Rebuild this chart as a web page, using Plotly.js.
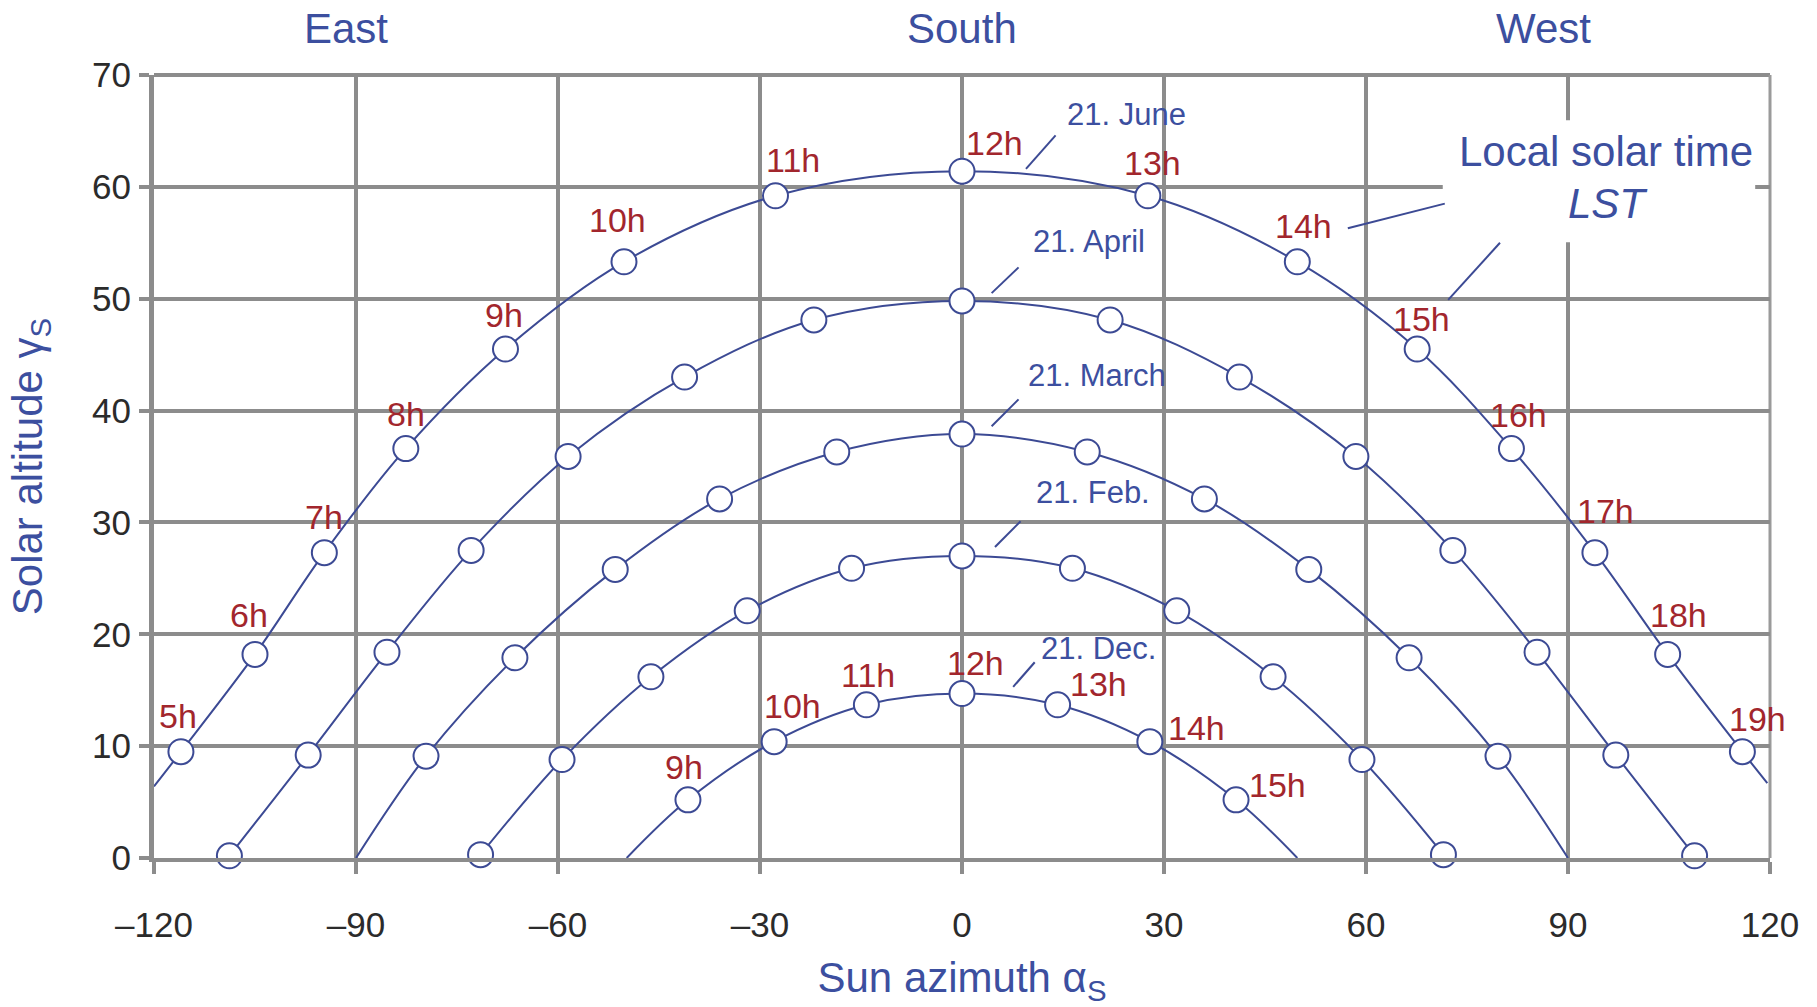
<!DOCTYPE html>
<html>
<head>
<meta charset="utf-8">
<script src="https://cdn.plot.ly/plotly-3.0.1.min.js"></script>
<style>
  html, body { margin: 0; padding: 0; background: #ffffff; }
  #chart { width: 1817px; height: 1007px; }
</style>
</head>
<body>
<div id="chart"></div>
<script>
// ---------------- data ----------------
// Sun azimuth (deg) and solar altitude (deg) at full hours, local solar time
const juneHours = ['5h','6h','7h','8h','9h','10h','11h','12h','13h','14h','15h','16h','17h','18h','19h'];
const juneAz  = [-116.0, -105.0, -94.7, -82.6, -67.8, -50.2, -27.7, 0, 27.6, 49.8, 67.6, 81.6, 94.0, 104.8, 115.9];
const juneAlt = [9.5, 18.2, 27.3, 36.6, 45.5, 53.3, 59.2, 61.4, 59.2, 53.3, 45.5, 36.6, 27.3, 18.2, 9.5];
// where the June curve leaves the plotted frame
const juneEdgeAz  = [-120, 119.6];
const juneEdgeAlt = [6.4, 6.7];

const aprilAz  = [-108.8, -97.1, -85.4, -72.9, -58.5, -41.2, -22.0, 0, 22.0, 41.2, 58.5, 72.9, 85.4, 97.1, 108.8];
const aprilAlt = [0.2, 9.2, 18.4, 27.5, 35.9, 43.0, 48.1, 49.8, 48.1, 43.0, 35.9, 27.5, 18.4, 9.2, 0.2];

const marchAz  = [-79.6, -66.4, -51.5, -36.0, -18.6, 0, 18.6, 36.0, 51.5, 66.4, 79.6];
const marchAlt = [9.1, 17.9, 25.8, 32.1, 36.3, 37.9, 36.3, 32.1, 25.8, 17.9, 9.1];
const marchRiseSetAz  = [-90, 90];
const marchRiseSetAlt = [0, 0];

const febAz  = [-71.5, -59.4, -46.2, -31.9, -16.4, 0, 16.4, 31.9, 46.2, 59.4, 71.5];
const febAlt = [0.3, 8.8, 16.2, 22.1, 25.9, 27.0, 25.9, 22.1, 16.2, 8.8, 0.3];

const decHours = ['9h','10h','11h','12h','13h','14h','15h'];
const decAz  = [-40.7, -27.9, -14.2, 0, 14.2, 27.9, 40.7];
const decAlt = [5.2, 10.4, 13.7, 14.7, 13.7, 10.4, 5.2];
const decRiseSetAz  = [-49.8, 49.8];
const decRiseSetAlt = [0, 0];

const dateNames = ['21. June', '21. April', '21. March', '21. Feb.', '21. Dec.'];

const xTickVals = [-120, -90, -60, -30, 0, 30, 60, 90, 120];
const yTickVals = [0, 10, 20, 30, 40, 50, 60, 70];
const directionNames = ['East', 'South', 'West'];

// ---------------- label placement (annotation positions) ----------------
const juneLabelX = [-116.5, -105.9, -94.7, -82.6, -68.0, -51.1, -25.1, 4.9, 28.3, 50.7, 68.3, 82.6, 95.5, 106.4, 118.1];
const juneLabelY = [12.7, 21.7, 30.5, 39.7, 48.5, 57.0, 62.4, 63.9, 62.1, 56.5, 48.2, 39.6, 31.0, 21.7, 12.4];
const decLabelX = [-41.3, -25.1, -13.9, 2.0, 20.2, 34.9, 46.9];
const decLabelY = [8.1, 13.6, 16.4, 17.4, 15.6, 11.6, 6.5];
const dateLabelX = [24.5, 18.9, 20.0, 19.4, 20.3];
const dateLabelY = [66.5, 55.1, 43.1, 32.7, 18.7];
const dateLeader = [[9.5, 61.6, 13.9, 64.6], [4.4, 50.5, 8.4, 52.8], [4.4, 38.6, 8.4, 41.0], [4.9, 27.8, 8.7, 30.1], [7.6, 15.3, 10.8, 17.5]];
const directionX = [-91.5, 0, 86.4];

// ---------------- styles ----------------
const FONT = 'Liberation Sans, Arial, Helvetica, sans-serif';
const BLUE_LINE = '#3c4a94';
const BLUE_TEXT = '#3c4f9f';
const RED_TEXT = '#a2262d';
const GRID = '#8c8c8c';

function curveTrace(az, alt) {
  return {
    x: az, y: alt, type: 'scatter', mode: 'lines', hoverinfo: 'skip',
    line: { color: BLUE_LINE, width: 2, shape: 'spline', smoothing: 1 },
    showlegend: false, cliponaxis: true
  };
}
function markerTrace(az, alt, name) {
  return {
    x: az, y: alt, type: 'scatter', mode: 'markers', name: name,
    marker: { size: 25, color: '#ffffff', line: { color: BLUE_LINE, width: 2 } },
    showlegend: false, cliponaxis: false
  };
}

const traces = [
  curveTrace([juneEdgeAz[0]].concat(juneAz, [juneEdgeAz[1]]), [juneEdgeAlt[0]].concat(juneAlt, [juneEdgeAlt[1]])),
  curveTrace(aprilAz, aprilAlt),
  curveTrace([marchRiseSetAz[0]].concat(marchAz, [marchRiseSetAz[1]]), [marchRiseSetAlt[0]].concat(marchAlt, [marchRiseSetAlt[1]])),
  curveTrace(febAz, febAlt),
  curveTrace([decRiseSetAz[0]].concat(decAz, [decRiseSetAz[1]]), [decRiseSetAlt[0]].concat(decAlt, [decRiseSetAlt[1]])),
  markerTrace(juneAz, juneAlt, dateNames[0]),
  markerTrace(aprilAz, aprilAlt, dateNames[1]),
  markerTrace(marchAz, marchAlt, dateNames[2]),
  markerTrace(febAz, febAlt, dateNames[3]),
  markerTrace(decAz, decAlt, dateNames[4])
];

const annotations = [];
juneHours.forEach((h, i) => annotations.push({
  x: juneLabelX[i], y: juneLabelY[i], xref: 'x', yref: 'y', text: h, showarrow: false,
  xanchor: 'center', yanchor: 'middle', font: { family: FONT, size: 34, color: RED_TEXT }
}));
decHours.forEach((h, i) => annotations.push({
  x: decLabelX[i], y: decLabelY[i], xref: 'x', yref: 'y', text: h, showarrow: false,
  xanchor: 'center', yanchor: 'middle', font: { family: FONT, size: 34, color: RED_TEXT }
}));
dateNames.forEach((d, i) => annotations.push({
  x: dateLabelX[i], y: dateLabelY[i], xref: 'x', yref: 'y', text: d, showarrow: false,
  xanchor: 'center', yanchor: 'middle', font: { family: FONT, size: 31, color: BLUE_TEXT }
}));
directionNames.forEach((d, i) => annotations.push({
  x: directionX[i], y: 1.0588, xref: 'x', yref: 'paper', text: d, showarrow: false,
  xanchor: 'center', yanchor: 'middle', font: { family: FONT, size: 42, color: BLUE_TEXT }
}));
annotations.push({
  x: 95.7, y: 63.2, xref: 'x', yref: 'y', text: 'Local solar time', showarrow: false,
  xanchor: 'center', yanchor: 'middle', font: { family: FONT, size: 42, color: BLUE_TEXT }
});
annotations.push({
  x: 95.9, y: 58.5, xref: 'x', yref: 'y', text: '<i>LST</i>', showarrow: false,
  xanchor: 'center', yanchor: 'middle', font: { family: FONT, size: 42, color: BLUE_TEXT }
});

const shapes = [
  // white label box over the grid
  { type: 'rect', xref: 'x', yref: 'y', x0: 71.4, x1: 117.8, y0: 55.05, y1: 65.95,
    fillcolor: '#ffffff', line: { width: 0 }, layer: 'between' },
  // frame: top and right
  { type: 'line', xref: 'paper', yref: 'paper', x0: 0, x1: 1, y0: 1, y1: 1, line: { color: GRID, width: 4 }, layer: 'below' },
  { type: 'line', xref: 'paper', yref: 'paper', x0: 1, x1: 1, y0: 0, y1: 1, line: { color: '#9a9a9a', width: 3 }, layer: 'below' },
  // LST leader lines
  { type: 'line', xref: 'x', yref: 'y', x0: 57.3, y0: 56.3, x1: 71.7, y1: 58.5, line: { color: BLUE_LINE, width: 2 } },
  { type: 'line', xref: 'x', yref: 'y', x0: 72.2, y0: 49.9, x1: 79.9, y1: 55.0, line: { color: BLUE_LINE, width: 2 } }
];
dateLeader.forEach(s => shapes.push({
  type: 'line', xref: 'x', yref: 'y', x0: s[0], y0: s[1], x1: s[2], y1: s[3],
  line: { color: BLUE_LINE, width: 2 }
}));

const layout = {
  width: 1817, height: 1007,
  margin: { l: 154, r: 47, t: 75, b: 149, pad: 0 },
  paper_bgcolor: '#ffffff', plot_bgcolor: '#ffffff',
  font: { family: FONT, color: '#2b2b2b' },
  showlegend: false,
  xaxis: {
    range: [-120, 120], tickvals: xTickVals, ticktext: xTickVals.map(v => v < 0 ? '\u2013' + Math.abs(v) : String(v)),
    showgrid: true, gridcolor: GRID, gridwidth: 4, zeroline: false,
    showline: true, linecolor: GRID, linewidth: 4,
    ticks: 'outside', ticklen: 12, tickwidth: 4, tickcolor: GRID,
    tickfont: { family: FONT, size: 35, color: '#2b2b2b' }, ticklabelstandoff: 21,
    title: { text: 'Sun azimuth \u03b1<sub>S</sub>', font: { family: FONT, size: 42, color: BLUE_TEXT }, standoff: 25 },
    fixedrange: true
  },
  yaxis: {
    range: [0, 70], tickvals: yTickVals,
    showgrid: true, gridcolor: GRID, gridwidth: 4, zeroline: false,
    showline: true, linecolor: GRID, linewidth: 5,
    ticks: 'outside', ticklen: 10, tickwidth: 4, tickcolor: GRID,
    tickfont: { family: FONT, size: 35, color: '#2b2b2b' }, ticklabelstandoff: 1,
    title: { text: 'Solar altitude \u03b3<sub>S</sub>', font: { family: FONT, size: 42, color: BLUE_TEXT }, standoff: 38 },
    fixedrange: true
  },
  annotations: annotations,
  shapes: shapes
};

Plotly.newPlot('chart', traces, layout, { displayModeBar: false, staticPlot: true });
</script>
</body>
</html>
